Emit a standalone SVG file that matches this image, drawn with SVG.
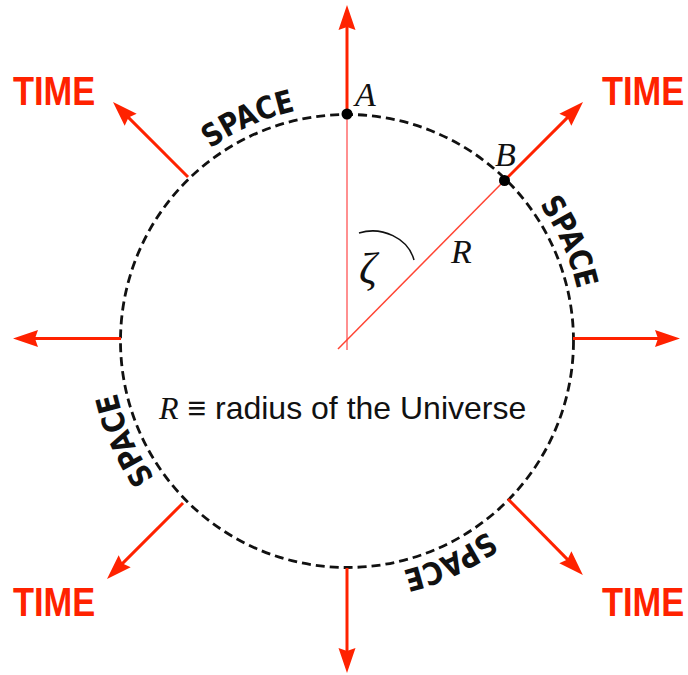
<svg xmlns="http://www.w3.org/2000/svg" xmlns:xlink="http://www.w3.org/1999/xlink" width="688" height="675" viewBox="0 0 688 675">
<style>
.arrow{stroke:#ff2200;stroke-width:3;fill:none;marker-end:url(#ah)}
.time{font-family:"Liberation Sans",Arial,sans-serif;font-weight:bold;font-size:41px;fill:#ff2200}
.space{font-family:"DejaVu Sans",Verdana,sans-serif;font-weight:bold;font-size:31px;fill:#111}
.lbl{font-family:"Liberation Serif","Times New Roman",serif;font-style:italic;fill:#111}
</style>
<defs>
<marker id="ah" markerUnits="userSpaceOnUse" markerWidth="30" markerHeight="20" viewBox="-5 -10 30 20" refX="0" refY="0" orient="auto" overflow="visible">
<path d="M-4,-8.5 L21,0 L-4,8.5 L-1,0 Z" fill="#ff2200"/>
</marker>
<path id="arcTop" d="M111,341 A236,236 0 0 1 583,341"/>
</defs>
<rect width="688" height="675" fill="#fff"/>
<g id="universe">
<circle cx="347" cy="341" r="226.5" fill="none" stroke="#111" stroke-width="2.8" stroke-dasharray="9 5"/>
</g>
<g id="connectors">
<line class="arrow" x1="347" y1="114" x2="347" y2="26"/>
<line class="arrow" x1="347" y1="568" x2="347" y2="652"/>
<line class="arrow" x1="121" y1="338.5" x2="34" y2="338.5"/>
<line class="arrow" x1="573" y1="338.5" x2="659" y2="338.5"/>
<line class="arrow" x1="188" y1="177" x2="127.85" y2="116.85"/>
<line class="arrow" x1="505" y1="180" x2="568.15" y2="116.85"/>
<line class="arrow" x1="183" y1="503" x2="121.85" y2="564.15"/>
<line class="arrow" x1="508" y1="499" x2="568.15" y2="560.15"/>
<line x1="347" y1="114" x2="347" y2="350" stroke="#ff9090" stroke-width="2"/>
<line x1="504.5" y1="180.5" x2="338" y2="349" stroke="#ff4433" stroke-width="1.5"/>
<path d="M359,233 C382,226 408,238 414,260" fill="none" stroke="#111" stroke-width="1.5"/>
</g>
<g id="pointA">
<circle cx="347" cy="114" r="5.5" fill="#000"/>
<text class="lbl" x="355" y="106" font-size="34">A</text>
</g>
<g id="pointB">
<circle cx="504.5" cy="180.5" r="5.5" fill="#000"/>
<text class="lbl" x="495" y="166" font-size="34">B</text>
</g>
<g id="labels">
<text class="lbl" x="451" y="263" font-size="34">R</text>
<text class="lbl" x="359" y="283" font-size="44">ζ</text>
<text x="159" y="419" font-family="Liberation Sans,Arial,sans-serif" font-size="32" fill="#111"><tspan font-family="Liberation Serif,Times New Roman,serif" font-style="italic">R</tspan> ≡ radius of the Universe</text>
</g>
<g id="time-labels">
<text class="time" transform="translate(13,105) scale(0.84,1)">TIME</text>
<text class="time" transform="translate(602,105) scale(0.84,1)">TIME</text>
<text class="time" transform="translate(13,616) scale(0.84,1)">TIME</text>
<text class="time" transform="translate(602,616) scale(0.84,1)">TIME</text>
</g>
<g id="space-labels">
<text class="space" transform="rotate(66 347 341)" text-anchor="middle"><textPath xlink:href="#arcTop" href="#arcTop" startOffset="50%" textLength="94" lengthAdjust="spacingAndGlyphs">SPACE</textPath></text>
<text class="space" transform="rotate(155 347 341)" text-anchor="middle"><textPath xlink:href="#arcTop" href="#arcTop" startOffset="50%" textLength="94" lengthAdjust="spacingAndGlyphs">SPACE</textPath></text>
<text class="space" transform="rotate(246 347 341)" text-anchor="middle"><textPath xlink:href="#arcTop" href="#arcTop" startOffset="50%" textLength="94" lengthAdjust="spacingAndGlyphs">SPACE</textPath></text>
<text class="space" transform="rotate(336 347 341)" text-anchor="middle"><textPath xlink:href="#arcTop" href="#arcTop" startOffset="50%" textLength="94" lengthAdjust="spacingAndGlyphs">SPACE</textPath></text>
</g>
</svg>
